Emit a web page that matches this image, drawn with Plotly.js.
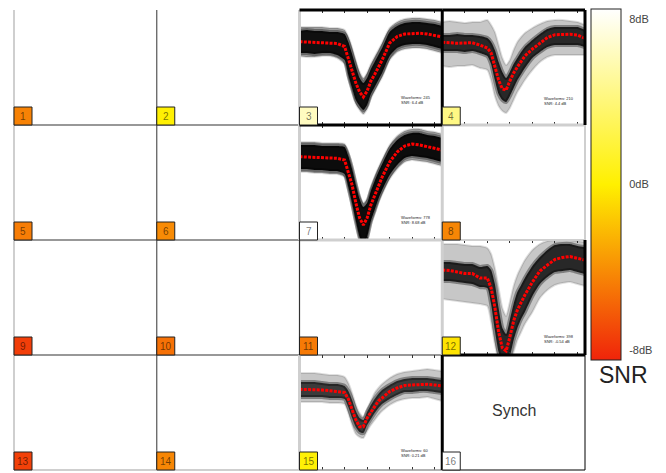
<!DOCTYPE html>
<html><head><meta charset="utf-8">
<script src="https://cdn.plot.ly/plotly-3.0.1.min.js"></script>
<style>html,body{margin:0;padding:0;background:#fff;}#chart{width:666px;height:473px;}</style>
</head><body><div id="chart"></div>
<script>
// ---------------- DATA ----------------
const channels = [1,2,3,4,5,6,7,8,9,10,11,12,13,14,15,16];
const snrDb    = [-4.6,0.1,6.4,4.4,-4.8,-4.2,8.68,-4.4,-7.4,-5.3,-4.9,-0.54,-7.3,-4.4,0.21,8.6];
const synchChannel = 16;

const samples = [0,2,4,6,8,10,12,13,14,15,16,17,18,19,20,21,22,24,26,28,30,32,34,36,38];
const wfChannels = [3,4,7,12,15];
const wfCounts   = [245,210,778,398,60];

const mean3   = [0.3,0,0,-0.3,-0.5,-1.5,-4.5,-16,-28,-41,-50,-55,-49,-39,-32.5,-25,-18,-1,5.5,8,8.7,8.7,8,6.5,5];
const inUp3   = [11,12,11,11,10,10,8,0,-12,-25,-36,-41,-36,-27,-20,-13,-6,10,16,19,20,20,19,18,16];
const inLo3   = [-11,-11,-12,-11,-11,-13,-18,-33,-46,-58,-64,-68,-63,-52,-45,-38,-31,-14,-6,-3,-2,-2,-3,-5,-7];
const outUp3  = [15,15,15,15,14,14,12,5,-6,-19,-30,-36,-31,-22,-15,-8,-1,14,20,23,24,24,23,22,20];
const outLo3  = [-14,-15,-15,-14,-14,-16,-22,-37,-50,-62,-68,-72,-67,-56,-49,-42,-35,-18,-10,-7,-6,-6,-7,-9,-11];

const mean4   = [-0.3,-1,-1.3,-1,-0.7,-3,-6,-11,-24,-38,-47,-48,-39,-31,-25,-19,-14,-7,-1,4.5,7.3,7.7,7.7,7,3.7];
const inUp4   = [7,7,8,7,7,6,4,0,-8,-20,-30,-36,-30,-22,-16,-10,-5,2,8,13,15,15,15,15,12];
const inLo4   = [-9,-9,-9,-10,-9,-11,-14,-22,-38,-52,-58,-60,-54,-46,-38,-32,-26,-16,-10,-5,-3,-3,-3,-3,-5];
const outUp4  = [20,21,20,19,20,20,22,17,10,-3,-16,-23,-18,-8,0,5,9,14,18,21,22,22,21,20,17];
const outLo4  = [-24,-25,-24,-24,-23,-26,-28,-38,-54,-64,-69,-71,-66,-58,-50,-44,-38,-28,-20,-15,-13,-13,-13,-13,-13];

const mean7   = [0.3,0,-0.3,-1,-1.3,-1.3,-3,-15,-28,-46,-61,-68,-61,-48,-38,-28.5,-20,-5,5,11,13,12,10.5,9,7];
const inUp7   = [12,12,12,11,11,11,10,1,-12,-28,-42,-50,-46,-34,-24,-15,-7,8,17,22,24,24,22,21,19];
const inLo7   = [-12,-12,-13,-13,-14,-14,-17,-30,-46,-64,-80,-88,-80,-64,-53,-42,-33,-18,-8,-1,1,0,-1,-3,-5];
const outUp7  = [15,15,15,14,14,14,13,5,-8,-24,-38,-46,-42,-30,-20,-11,-3,12,21,26,28,28,26,25,23];
const outLo7  = [-15,-15,-16,-16,-17,-17,-20,-34,-50,-68,-84,-92,-84,-68,-57,-46,-37,-22,-12,-5,-3,-4,-5,-7,-9];

const mean12  = [2,1.5,0,-1.5,-1.5,-6,-6,-16,-35,-60,-76,-79,-65,-49,-38,-30,-23,-10,1,7,12.5,14.5,15.5,13.7,12];
const inUp12  = [10,10,9,8,8,5,6,2,-12,-36,-56,-62,-48,-32,-20,-13,-6,6,15,22,27,28,28,26,25];
const inLo12  = [-9,-9,-10,-11,-12,-15,-16,-32,-58,-80,-90,-92,-84,-68,-56,-47,-40,-24,-12,-5,0,1,2,0,-2];
const outUp12 = [28,28,28,27,26,26,24,18,4,-16,-36,-44,-30,-14,-3,5,12,22,28,31,32,32,32,31,30];
const outLo12 = [-27,-28,-29,-30,-31,-32,-34,-50,-72,-88,-95,-98,-92,-80,-68,-60,-52,-40,-26,-18,-13,-11,-10,-12,-14];

const mean15  = [-2.3,-2.3,-2.5,-3,-3.7,-4.3,-5.5,-12,-23,-33,-39.7,-39.7,-31,-25,-19,-14,-11,-4.5,-1,1.5,2,2.5,2.7,2,1];
const inUp15  = [5,5,5,4,3,3,1,-4,-13,-24,-31,-33,-25,-18,-12,-7,-3,2,6,8,9,9,9,8,7];
const inLo15  = [-10,-10,-10,-10,-11,-11,-12,-20,-31,-40,-45,-46,-38,-32,-26,-21,-17,-12,-8,-5,-5,-4,-4,-5,-6];
const outUp15 = [14,14,14,13,12,12,10,4,-6,-18,-26,-30,-22,-14,-6,-1,3,9,13,15,16,17,18,17,16];
const outLo15 = [-15,-15,-15,-15,-16,-16,-17,-26,-38,-47,-50,-51,-44,-38,-33,-28,-24,-18,-14,-12,-11,-11,-10,-12,-14];

const cbTickVals = [8,0,-8];
const cbTickText = ['8dB','0dB','-8dB'];

// ---------------- STYLE / LAYOUT ----------------
const FONT = 'Liberation Sans, Arial, Helvetica, sans-serif';
const cmin = -8.5, cmax = 8.5;
const cscale = [[0,[240,36,10]],[0.5,[255,240,0]],[1,[255,255,255]]];
const colorscale = cscale.map(s => [s[0], 'rgb(' + s[1].join(',') + ')']);
function snrColor(v){
  let t = Math.max(0, Math.min(1, (v - cmin) / (cmax - cmin)));
  for (let i = 1; i < cscale.length; i++){
    if (t <= cscale[i][0]){
      const a = cscale[i-1], b = cscale[i];
      const f = (t - a[0]) / (b[0] - a[0]);
      const c = a[1].map((av, k) => Math.round(av + (b[1][k] - av) * f));
      return 'rgb(' + c.join(',') + ')';
    }
  }
  return 'rgb(255,255,255)';
}

const wfData = {
  3:  {m:mean3,  iu:inUp3,  il:inLo3,  ou:outUp3,  ol:outLo3,  oa:0.38, ia:0.9, ty:0.22},
  4:  {m:mean4,  iu:inUp4,  il:inLo4,  ou:outUp4,  ol:outLo4,  oa:0.22, ia:0.8, ty:0.21},
  7:  {m:mean7,  iu:inUp7,  il:inLo7,  ou:outUp7,  ol:outLo7,  oa:0.38, ia:0.92, ty:0.17},
  12: {m:mean12, iu:inUp12, il:inLo12, ou:outUp12, ol:outLo12, oa:0.22, ia:0.8, ty:0.14},
  15: {m:mean15, iu:inUp15, il:inLo15, ou:outUp15, ol:outLo15, oa:0.22, ia:0.7, ty:0.15}
};

const traces = [];
const layout = {
  width: 666, height: 473,
  margin: {l:14, r:81, t:10, b:3, pad:0},
  paper_bgcolor: '#fff', plot_bgcolor: 'rgba(0,0,0,0)',
  showlegend: false,
  font: {family: FONT, color: '#333'},
  shapes: [], annotations: []
};

function cellOf(ch){ const i = ch - 1; return {r: Math.floor(i/4), c: i % 4}; }

wfChannels.forEach((ch, k) => {
  const d = wfData[ch];
  const {r, c} = cellOf(ch);
  const sfx = k === 0 ? '' : String(k + 1);
  const xa = 'x' + sfx, ya = 'y' + sfx;
  layout['xaxis' + sfx] = {
    domain: [c/4, (c+1)/4], anchor: ya, range: [0, 38], fixedrange: true,
    showgrid: false, zeroline: false, showticklabels: false,
    ticks: 'inside', ticklen: 3, tickwidth: 1, tickcolor: '#333',
    tick0: 0, dtick: 6, showline: true, linecolor: 'rgba(0,0,0,0)', mirror: 'ticks'
  };
  layout['yaxis' + sfx] = {
    domain: [1 - (r+1)/4, 1 - r/4], anchor: xa, range: [-83, 32], fixedrange: true,
    showgrid: false, zeroline: false, showticklabels: false, ticks: '', showline: false
  };
  const base = {x: samples, xaxis: xa, yaxis: ya, mode: 'lines', hoverinfo: 'skip', showlegend: false};
  const sp = {shape: 'spline', smoothing: 0.6};
  traces.push(Object.assign({}, base, {y: d.ol, line: Object.assign({width: 2, color: 'rgba(0,0,0,0.12)'}, sp)}));
  traces.push(Object.assign({}, base, {y: d.ou, fill: 'tonexty', fillcolor: 'rgba(0,0,0,' + d.oa + ')', line: Object.assign({width: 2, color: 'rgba(0,0,0,0.12)'}, sp)}));
  traces.push(Object.assign({}, base, {y: d.il, line: Object.assign({width: 4, color: 'rgba(0,0,0,0.35)'}, sp)}));
  traces.push(Object.assign({}, base, {y: d.iu, fill: 'tonexty', fillcolor: 'rgba(0,0,0,' + d.ia + ')', line: Object.assign({width: 4, color: 'rgba(0,0,0,0.35)'}, sp)}));
  traces.push(Object.assign({}, base, {y: d.m, line: {color: '#ff0000', width: 3, dash: '3px,1.3px'}}));
  layout.annotations.push({
    xref: xa + ' domain', yref: ya + ' domain', x: 0.70, y: d.ty, xanchor: 'left', yanchor: 'middle',
    text: 'Waveforms: ' + wfCounts[k] + '<br>SNR: ' + snrDb[ch-1] + ' dB', showarrow: false, align: 'left',
    font: {size: 4, color: '#222', family: FONT}
  });
});

// colour bar (dummy trace)
traces.push({
  type: 'scatter', x: [null], y: [null], mode: 'markers', xaxis: 'x', yaxis: 'y', hoverinfo: 'skip', showlegend: false,
  marker: {color: [0], cmin: cmin, cmax: cmax, colorscale: colorscale, showscale: true,
    colorbar: {x: (591-14)/571, xanchor: 'left', xpad: 0, y: (470-9)/460, yanchor: 'top', ypad: 0,
      len: 351/460, lenmode: 'fraction', thickness: 30, thicknessmode: 'pixels',
      outlinewidth: 1, outlinecolor: '#222', tickvals: cbTickVals, ticktext: cbTickText,
      ticks: 'outside', ticklen: 6, tickcolor: 'rgba(0,0,0,0)', tickfont: {size: 11, color: '#444', family: FONT}}}
});

// grid borders (cell-edge styles)
const LG = '#cfcfcf', DG = '#333', BK = '#000';
function hseg(r, c, color, w){ layout.shapes.push({type:'line', xref:'paper', yref:'paper', x0:c/4, x1:(c+1)/4, y0:1-r/4, y1:1-r/4, line:{color:color, width:w}}); }
function vseg(c, r, color, w){ layout.shapes.push({type:'line', xref:'paper', yref:'paper', x0:c/4, x1:c/4, y0:1-(r+1)/4, y1:1-r/4, line:{color:color, width:w}}); }
for (let r = 0; r < 4; r++){ vseg(0, r, LG, 2); vseg(1, r, '#555', 1.2); }
hseg(1,0,DG,1.2); hseg(1,1,DG,1.2); hseg(2,0,DG,1.2); hseg(2,1,DG,1.2);
hseg(3,0,DG,1.2); hseg(3,1,DG,1.2); hseg(3,2,DG,1.2);
hseg(4,0,LG,2); hseg(4,1,LG,2); hseg(4,2,'#999',1.5);
hseg(1,3,LG,3); hseg(2,2,LG,3); hseg(2,3,LG,2);
vseg(2,0,LG,3); vseg(2,1,LG,3); vseg(2,2,DG,1.2); vseg(2,3,LG,3);
vseg(3,1,LG,3); vseg(3,2,LG,3); vseg(4,1,LG,2);
hseg(3,3,BK,1); hseg(4,3,BK,1); vseg(3,3,BK,1); vseg(4,3,BK,1);
hseg(0,2,BK,3); hseg(0,3,BK,3); hseg(1,2,BK,3); hseg(3,3,BK,3);
vseg(3,0,BK,3); vseg(4,0,BK,3); vseg(4,2,BK,3); vseg(3,3,BK,3);

// channel badges
const bw = 18/571, bh = 18/460;
channels.forEach((ch, i) => {
  const {r, c} = cellOf(ch);
  const x0 = c/4, y0 = 1 - (r+1)/4;
  layout.shapes.push({type:'rect', xref:'paper', yref:'paper', x0:x0, x1:x0+bw, y0:y0, y1:y0+bh,
    fillcolor: snrColor(snrDb[i]), line:{color:'#222', width:1}});
  layout.annotations.push({xref:'paper', yref:'paper', x:x0+bw/2, y:y0+bh/2, xanchor:'center', yanchor:'middle',
    text: String(ch), showarrow:false, font:{size:10, color:'rgba(0,0,0,0.55)', family:FONT}});
});

const sc = cellOf(synchChannel);
layout.annotations.push({xref:'paper', yref:'paper', x:(sc.c+0.5)/4, y:1-(sc.r+0.5)/4 + 0.004, xanchor:'center', yanchor:'middle',
  text:'Synch', showarrow:false, font:{size:16, color:'#333', family:FONT}});
layout.annotations.push({xref:'paper', yref:'paper', x:(623.5-14)/571, y:(470-375)/460, xanchor:'center', yanchor:'middle',
  text:'SNR', showarrow:false, font:{size:23, color:'#222', family:FONT}});

Plotly.newPlot('chart', traces, layout, {staticPlot: true, displayModeBar: false});
</script>
</body></html>
